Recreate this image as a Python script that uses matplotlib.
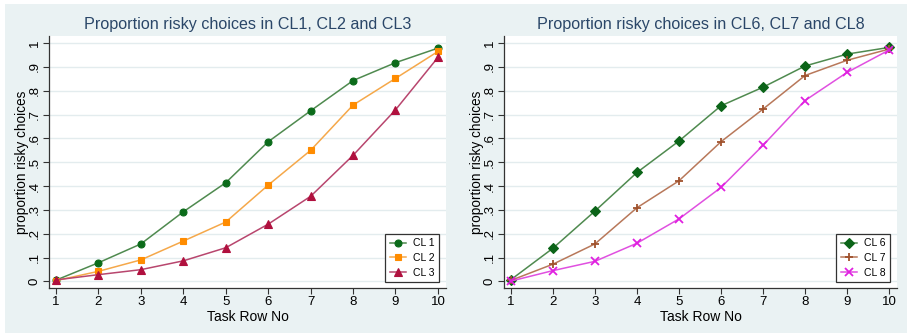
import numpy as np
import matplotlib
matplotlib.use("Agg")
import matplotlib.pyplot as plt
from matplotlib.patches import Rectangle

plt.rcParams['font.family'] = ['Liberation Sans', 'DejaVu Sans']

# data
task_rows = [1, 2, 3, 4, 5, 6, 7, 8, 9, 10]

cl1 = [0.005, 0.078, 0.157, 0.292, 0.414, 0.586, 0.716, 0.843, 0.918, 0.979]
cl2 = [0.003, 0.042, 0.090, 0.169, 0.249, 0.404, 0.550, 0.740, 0.852, 0.965]
cl3 = [0.006, 0.028, 0.049, 0.086, 0.141, 0.240, 0.357, 0.529, 0.720, 0.940]

cl6 = [0.007, 0.139, 0.295, 0.457, 0.589, 0.737, 0.815, 0.904, 0.954, 0.982]
cl7 = [0.004, 0.072, 0.157, 0.309, 0.422, 0.586, 0.723, 0.864, 0.928, 0.975]
cl8 = [0.001, 0.045, 0.084, 0.160, 0.262, 0.394, 0.571, 0.759, 0.877, 0.971]

y_ticks = [0, 0.1, 0.2, 0.3, 0.4, 0.5, 0.6, 0.7, 0.8, 0.9, 1.0]
y_ticklabels = ['0', '.1', '.2', '.3', '.4', '.5', '.6', '.7', '.8', '.9', '1']

panels = [
    ("Proportion risky choices in CL1, CL2 and CL3",
     [("CL 1", cl1, 'o', '#4f8a4f', '#0b6b1a', 5.0),
      ("CL 2", cl2, 's', '#f5a84a', '#ff8c00', 5.0),
      ("CL 3", cl3, '^', '#b8466e', '#b0103e', 5.5)]),
    ("Proportion risky choices in CL6, CL7 and CL8",
     [("CL 6", cl6, 'D', '#4f8a4f', '#0b6418', 5.5),
      ("CL 7", cl7, '+', '#b8785a', '#a0522d', 6.0),
      ("CL 8", cl8, 'x', '#e050e0', '#e020e0', 6.0)]),
]

W, H = 909, 335
fig = plt.figure(figsize=(W / 100, H / 100), dpi=100, facecolor='white')
bg = '#eaf2f3'
fig.patches.append(Rectangle((5 / W, (H - 333) / H), 902 / W, 329 / H,
                             transform=fig.transFigure, facecolor=bg,
                             edgecolor='none', zorder=-10))

lefts = [49, 504]
widths = [397, 393]
top, bottom = 36, 288

for (title, series), left, width in zip(panels, lefts, widths):
    ax = fig.add_axes([left / W, (H - bottom) / H, width / W, (bottom - top) / H])
    ax.set_facecolor('white')
    for name, vals, mk, lc, mc, ms in series:
        ax.plot(task_rows, vals, color=lc, linewidth=1.1, marker=mk,
                markersize=ms, markerfacecolor=mc, markeredgecolor=mc,
                markeredgewidth=1.3 if mk in '+x' else 0.8, label=name,
                zorder=3)
    ax.set_xlim(0.835, 10.19)
    ax.set_ylim(-0.028, 1.03)
    ax.set_xticks(task_rows)
    ax.set_yticks(y_ticks)
    ax.set_yticklabels(y_ticklabels, rotation=90, va='center')
    ax.grid(axis='y', color='#e3ecee', linewidth=1.0, zorder=0)
    for s in ['top', 'right']:
        ax.spines[s].set_visible(False)
    for s in ['left', 'bottom']:
        ax.spines[s].set_color('#333333')
        ax.spines[s].set_linewidth(0.9)
    ax.tick_params(axis='both', direction='out', length=4, width=0.8,
                   color='#333333', labelsize=9.5, labelcolor='black', pad=2)
    ax.set_title(title, fontsize=11.6, color='#2a4668', pad=5)
    ax.set_xlabel('Task Row No', fontsize=10, labelpad=1)
    ax.set_ylabel('proportion risky choices', fontsize=9.8, labelpad=0)
    leg = ax.legend(loc='lower right', fontsize=7.5, frameon=True,
                    fancybox=False, edgecolor='#333333', framealpha=1,
                    borderpad=0.45, handlelength=1.6, handletextpad=0.6,
                    labelspacing=0.45, borderaxespad=0.3,
                    bbox_to_anchor=(0.99, 0.01))
    leg.get_frame().set_linewidth(0.9)

fig.savefig('out.png', dpi=100, facecolor='white')
